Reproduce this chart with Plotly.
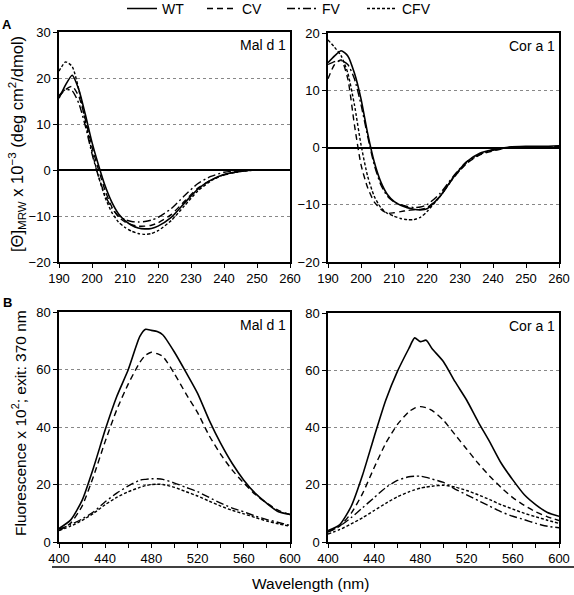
import plotly.graph_objects as go

# ---------------- data ----------------
series_names = ["WT", "CV", "FV", "CFV"]

# CD spectra (x 10^-3)
cd_wavelength = [190, 192, 194, 196, 198, 200, 202, 204, 206, 208, 210, 212, 214, 216, 218, 220,
                 224, 228, 232, 236, 240, 245, 250, 255, 260]
cd_mal_wt  = [15.6, 18.5, 20.6, 17.5, 12.0, 6.0, 1.0, -3.5, -7.0, -9.5, -11.0, -12.0, -12.6, -12.8, -12.7, -12.2,
              -10.3, -7.2, -4.2, -2.2, -1.0, -0.3, 0.0, 0.0, 0.0]
cd_mal_cv  = [16.0, 17.5, 18.2, 16.0, 11.0, 5.0, 0.0, -4.5, -8.0, -10.2, -11.3, -11.9, -12.2, -12.2, -12.0, -11.5,
              -9.7, -6.8, -4.0, -2.2, -1.1, -0.3, 0.0, 0.0, 0.0]
cd_mal_fv  = [16.2, 17.5, 17.2, 14.5, 9.5, 3.5, -1.5, -5.5, -8.3, -10.0, -10.8, -11.2, -11.3, -11.2, -10.9, -10.3,
              -8.4, -5.6, -3.0, -1.4, -0.5, -0.1, 0.0, 0.0, 0.0]
cd_mal_cfv = [21.5, 23.5, 22.5, 17.5, 10.5, 4.0, -1.5, -6.0, -9.2, -11.3, -12.5, -13.3, -13.8, -14.0, -13.8, -13.2,
              -11.0, -7.8, -4.6, -2.4, -1.0, -0.3, 0.0, 0.0, 0.0]

cd_cor_wt  = [14.8, 16.0, 16.9, 16.0, 13.0, 8.5, 2.5, -2.5, -6.0, -8.2, -9.4, -10.1, -10.5, -10.8, -10.9, -10.7,
              -8.5, -5.2, -2.5, -1.0, -0.4, 0.1, 0.2, 0.2, 0.3]
cd_cor_cv  = [12.0, 14.5, 15.3, 12.0, 4.0, -3.0, -7.0, -9.5, -10.8, -11.5, -11.4, -11.2, -11.0, -10.9, -10.8, -10.5,
              -8.5, -5.3, -2.8, -1.3, -0.6, 0.0, 0.1, 0.1, 0.2]
cd_cor_fv  = [14.5, 15.0, 15.2, 14.5, 12.0, 7.5, 2.0, -3.0, -6.5, -8.5, -9.5, -10.0, -10.3, -10.5, -10.4, -10.0,
              -8.0, -5.0, -2.5, -1.2, -0.5, 0.0, 0.1, 0.1, 0.1]
cd_cor_cfv = [18.8, 17.5, 16.0, 13.0, 7.5, 0.5, -5.0, -8.5, -10.5, -11.5, -12.0, -12.4, -12.6, -12.6, -12.2, -11.2,
              -8.5, -5.3, -2.7, -1.2, -0.4, 0.0, 0.1, 0.1, 0.1]

# Fluorescence (x 10^2)
fl_wavelength = [400, 410, 420, 430, 440, 450, 460, 470, 475, 480, 485, 490, 500, 510, 520, 530, 540, 550,
                 560, 570, 580, 590, 600]
fl_mal_wt  = [4.7, 7.6, 14.5, 26.0, 39.0, 50.6, 60.0, 71.5, 74.0, 73.6, 73.2, 72.0, 66.0, 59.0, 51.7, 42.4, 34.3,
              27.3, 21.5, 16.9, 13.4, 10.5, 9.6]
fl_mal_cv  = [4.0, 6.5, 12.5, 23.0, 35.0, 46.0, 55.0, 62.5, 65.0, 66.0, 65.5, 64.5, 58.5, 51.5, 45.0, 37.0, 30.5,
              25.0, 20.5, 16.5, 13.5, 11.0, 9.5]
fl_mal_fv  = [4.5, 6.0, 8.0, 10.5, 14.0, 17.0, 19.5, 21.5, 21.8, 22.0, 22.0, 21.8, 20.5, 19.0, 17.5, 15.5, 13.5,
              11.8, 10.5, 9.0, 7.8, 6.8, 5.8]
fl_mal_cfv = [4.0, 5.5, 7.5, 10.0, 13.0, 15.5, 17.5, 19.0, 19.6, 20.0, 20.1, 20.0, 19.0, 17.5, 16.0, 14.2, 12.5,
              11.0, 9.8, 8.5, 7.3, 6.3, 5.5]

fl_cor_wt  = [4.0, 6.0, 12.4, 23.5, 36.8, 49.5, 59.5, 67.6, 71.3, 70.0, 70.5, 67.6, 63.0, 56.0, 49.6, 42.0, 35.0,
              27.5, 21.7, 16.5, 13.0, 10.3, 9.0]
fl_cor_cv  = [3.5, 5.5, 10.0, 17.0, 26.0, 34.5, 41.0, 45.5, 46.8, 47.3, 46.9, 46.0, 42.5, 37.5, 32.5, 27.5, 23.0,
              19.0, 15.5, 12.8, 10.5, 8.8, 7.5]
fl_cor_fv  = [3.5, 5.5, 8.5, 12.0, 15.5, 19.0, 21.5, 22.8, 23.0, 23.0, 22.6, 22.0, 20.8, 18.5, 16.5, 14.5, 12.5,
              10.5, 9.0, 7.8, 6.5, 5.5, 5.0]
fl_cor_cfv = [2.8, 4.3, 6.3, 8.5, 11.0, 13.5, 15.8, 17.5, 18.2, 18.8, 19.2, 19.5, 19.8, 19.2, 18.0, 16.5, 14.8,
              13.0, 11.5, 10.0, 8.8, 7.6, 6.5]

# ---------------- styles ----------------
styles = {
    "WT":  dict(dash="solid", width=1.6),
    "CV":  dict(dash="6px,4px", width=1.4),
    "FV":  dict(dash="8px,3px,2px,3px", width=1.4),
    "CFV": dict(dash="3px,2px", width=1.4),
}

W, H = 574, 595
def px_x(a, b):
    return [a / W, b / W]
def px_y(top, bottom):
    return [1 - bottom / H, 1 - top / H]

fig = go.Figure()

panels = [
    ("x", "y", cd_wavelength, [cd_mal_wt, cd_mal_cv, cd_mal_fv, cd_mal_cfv], True),
    ("x2", "y2", cd_wavelength, [cd_cor_wt, cd_cor_cv, cd_cor_fv, cd_cor_cfv], False),
    ("x3", "y3", fl_wavelength, [fl_mal_wt, fl_mal_cv, fl_mal_fv, fl_mal_cfv], False),
    ("x4", "y4", fl_wavelength, [fl_cor_wt, fl_cor_cv, fl_cor_fv, fl_cor_cfv], False),
]

for xa, ya, xs, ys_list, show in panels:
    for name, ys in zip(series_names, ys_list):
        st = styles[name]
        fig.add_trace(go.Scatter(
            x=xs, y=ys, name=name, mode="lines", xaxis=xa, yaxis=ya,
            line=dict(color="black", width=st["width"], dash=st["dash"], shape="spline", smoothing=0.6),
            showlegend=show,
        ))

font_family = "Liberation Sans, Arial, sans-serif"
tick_font = dict(family=font_family, size=13, color="black")

common_axis = dict(
    showline=True, mirror=True, linecolor="black", linewidth=1.5,
    ticks="outside", ticklen=4, tickcolor="black", tickwidth=1,
    tickfont=tick_font, zeroline=False, automargin=False,
)

xa_dom_l = px_x(59, 290)
xa_dom_r = px_x(328, 559)

layout = dict(
    width=W, height=H,
    margin=dict(l=0, r=0, t=0, b=0, autoexpand=False),
    paper_bgcolor="white", plot_bgcolor="white",
    font=dict(family=font_family, size=13, color="black"),
    showlegend=True,
    legend=dict(orientation="h", x=122 / W, xanchor="left", y=1.012, yanchor="top",
                font=dict(family=font_family, size=14), bgcolor="rgba(0,0,0,0)",
                entrywidth=35, entrywidthmode="pixels", itemwidth=30, tracegroupgap=0),
)

for i, (xd, yd, yr) in enumerate([(xa_dom_l, px_y(32, 262), [-20, 30]),
                                   (xa_dom_r, px_y(33, 262), [-20, 20])]):
    xk = "xaxis" if i == 0 else "xaxis2"
    yk = "yaxis" if i == 0 else "yaxis2"
    anchor_y = "y" if i == 0 else "y2"
    anchor_x = "x" if i == 0 else "x2"
    layout[xk] = dict(common_axis, domain=xd, anchor=anchor_y, range=[190, 260], dtick=10, tick0=190,
                      showgrid=False)
    layout[yk] = dict(common_axis, domain=yd, anchor=anchor_x, range=yr, dtick=10, tick0=0,
                      showgrid=True, gridcolor="#888888", griddash="dot", gridwidth=1,
                      zeroline=True, zerolinecolor="black", zerolinewidth=1.5)

for i, (xd, yd) in enumerate([(xa_dom_l, px_y(312, 542)), (xa_dom_r, px_y(313, 542))]):
    xk = "xaxis3" if i == 0 else "xaxis4"
    yk = "yaxis3" if i == 0 else "yaxis4"
    anchor_y = "y3" if i == 0 else "y4"
    anchor_x = "x3" if i == 0 else "x4"
    layout[xk] = dict(common_axis, domain=xd, anchor=anchor_y, range=[400, 600], dtick=40, tick0=400,
                      showgrid=False,
                      minor=dict(dtick=20, tick0=400, ticks="outside", ticklen=4, tickcolor="black", showgrid=False))
    layout[yk] = dict(common_axis, domain=yd, anchor=anchor_x, range=[0, 80], dtick=20, tick0=0,
                      showgrid=True, gridcolor="#888888", griddash="dot", gridwidth=1)

fig.update_layout(**layout)

ann_font = dict(family=font_family, size=14, color="black")
for xref, yref, txt in [("x domain", "y domain", "Mal d 1"), ("x2 domain", "y2 domain", "Cor a 1"),
                        ("x3 domain", "y3 domain", "Mal d 1"), ("x4 domain", "y4 domain", "Cor a 1")]:
    fig.add_annotation(xref=xref, yref=yref, x=0.99, y=0.985, xanchor="right", yanchor="top",
                       text=txt, showarrow=False, font=ann_font)

fig.add_annotation(xref="paper", yref="paper", x=7 / W, y=1 - 25 / H, text="<b>A</b>", showarrow=False,
                   xanchor="center", yanchor="middle", font=dict(family=font_family, size=13, color="black"))
fig.add_annotation(xref="paper", yref="paper", x=7 / W, y=1 - 302 / H, text="<b>B</b>", showarrow=False,
                   xanchor="center", yanchor="middle", font=dict(family=font_family, size=13, color="black"))

fig.add_annotation(xref="paper", yref="paper", x=17 / W, y=1 - 144 / H, textangle=-90,
                   xanchor="center", yanchor="middle",
                   text="[Θ]<sub>MRW</sub> x 10<sup>−3</sup> (deg cm<sup>2</sup>/dmol)",
                   showarrow=False, font=dict(family=font_family, size=16.5, color="black"))
fig.add_annotation(xref="paper", yref="paper", x=19 / W, y=1 - 423 / H, textangle=-90,
                   xanchor="center", yanchor="middle",
                   text="Fluorescence x 10<sup>2</sup>; exit: 370 nm",
                   showarrow=False, font=dict(family=font_family, size=15.5, color="black"))

fig.add_shape(type="line", xref="paper", yref="paper", x0=52 / W, x1=1, y0=1 - 567 / H, y1=1 - 567 / H,
              line=dict(color="black", width=1.5))
fig.add_annotation(xref="paper", yref="paper", x=310 / W, y=1 - 583 / H, text="Wavelength (nm)",
                   xanchor="center", yanchor="middle",
                   showarrow=False, font=dict(family=font_family, size=15.5, color="black"))

fig.write_html("out.html", config={"displayModeBar": False},
               post_script="document.body.style.margin='0';document.body.style.overflow='hidden';")
